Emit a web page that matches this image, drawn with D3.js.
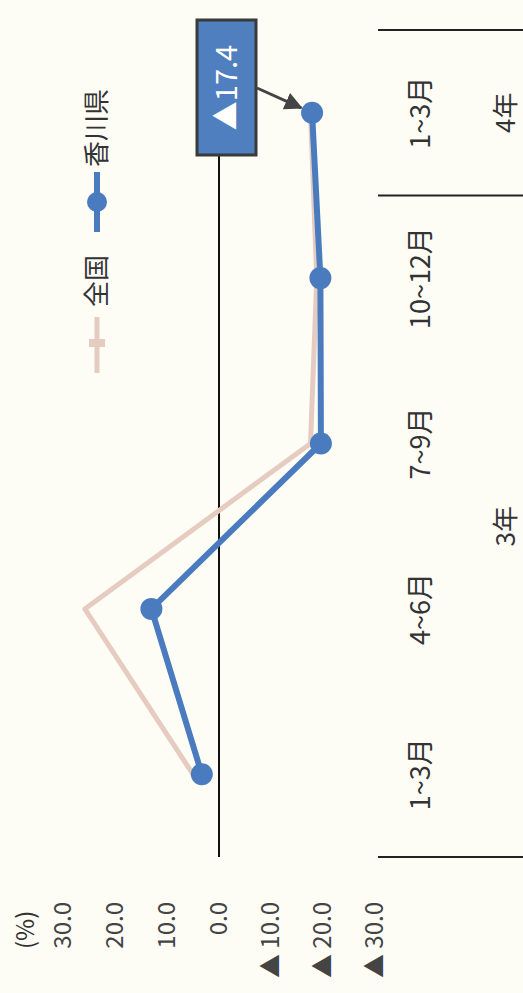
<!DOCTYPE html>
<html>
<head>
<meta charset="utf-8">
<script src="https://cdn.jsdelivr.net/npm/d3@7"></script>
<style>
  html, body { margin: 0; padding: 0; background: #fdfdf6; }
  svg { display: block; }
  text { font-family: "Noto Sans CJK JP", "Noto Sans", sans-serif; }
</style>
</head>
<body>
<script>
// ---- data ----
const categories = ["1~3月", "4~6月", "7~9月", "10~12月", "1~3月"];
const years = [{label: "3年", from: 0, to: 3}, {label: "4年", from: 4, to: 4}];
const seriesNames = ["全国", "香川県"];
const zenkoku = [5.0, 25.8, -17.6, -18.8, -17.6];
const kagawa = [3.3, 13.0, -19.6, -19.5, -17.9];
const yTicks = [30, 20, 10, 0, -10, -20, -30];
const annotationText = "▲17.4";

const W = 523, H = 993;
// chart built in an unrotated frame (width H, height W), then rotated -90deg
const svg = d3.select("body").append("svg").attr("width", W).attr("height", H);
svg.append("rect").attr("width", W).attr("height", H).attr("fill", "#fdfdf6");
const g = svg.append("g").attr("transform", `translate(0,${H}) rotate(-90)`);

const x = d3.scaleBand().domain(d3.range(categories.length)).range([136, 963]);
const y = d3.scaleLinear().domain([-30, 30]).range([375, 63]);

const pink = "#e6cbc0", blue = "#4a7bbf";

// value axis labels
const fmt = d => d < 0 ? "▲ " + Math.abs(d).toFixed(1) : d.toFixed(1);
const yAxis = g.append("g").attr("transform", "translate(99,0)")
  .call(d3.axisLeft(y).tickValues(yTicks).tickFormat(fmt).tickSize(0).tickPadding(8));
yAxis.select(".domain").remove();
yAxis.selectAll("text").attr("font-size", 24).attr("fill", "#444")
  .attr("font-family", "'Noto Sans', 'Noto Sans CJK JP', sans-serif");
g.append("text").attr("x", 44).attr("y", 34).attr("font-size", 24)
  .attr("fill", "#333").attr("font-family", "'Noto Sans', sans-serif").text("(%)");

// zero line
g.append("line").attr("x1", x.range()[0]).attr("x2", x.range()[1])
  .attr("y1", y(0)).attr("y2", y(0)).attr("stroke", "#111").attr("stroke-width", 2);

// category labels
g.selectAll(".cat").data(categories).join("text")
  .attr("x", (d, i) => x(i) + x.bandwidth() / 2)
  .attr("y", 430).attr("text-anchor", "middle").attr("font-size", 27)
  .attr("fill", "#333").text(d => d);
g.selectAll(".yr").data(years).join("text")
  .attr("x", d => (x(d.from) + x(d.to) + x.bandwidth()) / 2)
  .attr("y", 515).attr("text-anchor", "middle").attr("font-size", 26)
  .attr("fill", "#333").text(d => d.label);
// group separators
const seps = [x(0), x(years[1].from), x(categories.length - 1) + x.bandwidth()];
g.selectAll(".sep").data(seps).join("line")
  .attr("x1", d => d).attr("x2", d => d).attr("y1", 378).attr("y2", 523)
  .attr("stroke", "#222").attr("stroke-width", 2);

// lines
const line = d3.line().x((d, i) => x(i) + x.bandwidth() / 2).y(d => y(d));
g.append("path").datum(zenkoku).attr("d", line).attr("fill", "none")
  .attr("stroke", pink).attr("stroke-width", 5).attr("stroke-linejoin", "round");
g.append("path").datum(kagawa).attr("d", line).attr("fill", "none")
  .attr("stroke", blue).attr("stroke-width", 6).attr("stroke-linejoin", "round");
g.selectAll(".pt").data(kagawa).join("circle")
  .attr("cx", (d, i) => x(i) + x.bandwidth() / 2).attr("cy", d => y(d))
  .attr("r", 11).attr("fill", blue);

// legend
const lg = g.append("g");
lg.append("line").attr("x1", 620).attr("x2", 676).attr("y1", 97).attr("y2", 97)
  .attr("stroke", pink).attr("stroke-width", 5);
lg.append("rect").attr("x", 646).attr("y", 89).attr("width", 8).attr("height", 16).attr("fill", pink);
lg.append("text").attr("x", 686).attr("y", 106).attr("font-size", 26).attr("fill", "#333").text(seriesNames[0]);
lg.append("line").attr("x1", 761).attr("x2", 821).attr("y1", 97).attr("y2", 97)
  .attr("stroke", blue).attr("stroke-width", 6);
lg.append("circle").attr("cx", 791).attr("cy", 97).attr("r", 10).attr("fill", blue);
lg.append("text").attr("x", 826).attr("y", 106).attr("font-size", 26).attr("fill", "#333").text(seriesNames[1]);

// annotation
const last = kagawa.length - 1;
const px = x(last) + x.bandwidth() / 2, py = y(kagawa[last]);
const box = {x0: 838, x1: 973, y0: 197, y1: 256};
g.append("rect").attr("x", box.x0).attr("y", box.y0)
  .attr("width", box.x1 - box.x0).attr("height", box.y1 - box.y0)
  .attr("fill", "#4f7fbe").attr("stroke", "#3a3a3a").attr("stroke-width", 3);
g.append("text").attr("x", (box.x0 + box.x1) / 2).attr("y", (box.y0 + box.y1) / 2 + 10)
  .attr("text-anchor", "middle").attr("font-size", 29).attr("fill", "#fff").text(annotationText);
const sx = 905, sy = box.y1 + 1;
const ang = Math.atan2(py - sy, px - sx);
const tx = px - Math.cos(ang) * 12, ty = py - Math.sin(ang) * 12;
svg.append("defs").append("marker").attr("id", "ah").attr("viewBox", "0 0 10 10")
  .attr("refX", 9).attr("refY", 5).attr("markerWidth", 6).attr("markerHeight", 6)
  .attr("orient", "auto").append("path").attr("d", "M0,0L10,5L0,10z").attr("fill", "#444");
g.append("line").attr("x1", sx).attr("y1", sy).attr("x2", tx).attr("y2", ty)
  .attr("stroke", "#444").attr("stroke-width", 3).attr("marker-end", "url(#ah)");
</script>
</body>
</html>
